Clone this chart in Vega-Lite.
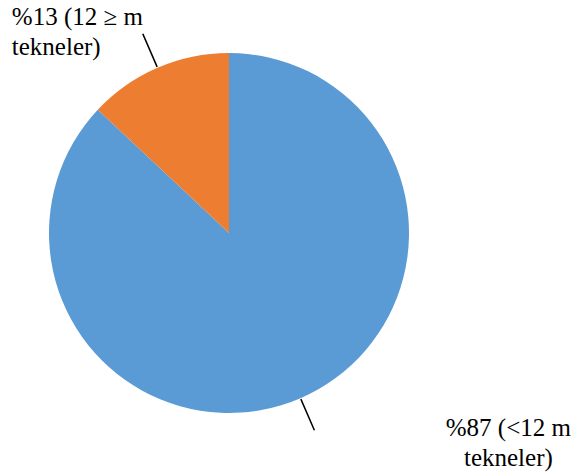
{
  "$schema": "https://vega.github.io/schema/vega-lite/v6.json",
  "width": 400,
  "height": 400,
  "autosize": {"type": "none"},
  "padding": {"left": 29, "top": 33, "right": 152, "bottom": 41},
  "background": "white",
  "config": {"view": {"stroke": null}, "text": {"font": "'Liberation Serif', serif"}},
  "data": {
    "values": [
      {"group": "<12 m tekneler", "value": 87, "label": "%87 (<12 m\ntekneler)"},
      {"group": "12 ≥ m tekneler", "value": 13, "label": "%13 (12 ≥ m\ntekneler)"}
    ]
  },
  "transform": [
    {"stack": "value", "groupby": [], "as": ["v0", "v1"], "sort": [{"field": "value", "order": "descending"}]},
    {"calculate": "(datum.v0 + datum.v1) / 2", "as": "mid"}
  ],
  "layer": [
    {
      "mark": {"type": "arc", "outerRadius": 180},
      "encoding": {
        "theta": {"field": "v0", "type": "quantitative", "scale": {"domain": [0, 100]}, "stack": null},
        "theta2": {"field": "v1"},
        "color": {
          "field": "group",
          "type": "nominal",
          "scale": {"domain": ["<12 m tekneler", "12 ≥ m tekneler"], "range": ["#5B9BD5", "#ED7D31"]},
          "legend": null
        }
      }
    },
    {
      "transform": [{"filter": "datum.value == 13"}],
      "mark": {"type": "arc", "radius": 217, "radius2": 181, "stroke": "black", "strokeWidth": 1.5, "fill": null},
      "encoding": {
        "theta": {"field": "mid", "type": "quantitative", "scale": {"domain": [0, 100]}, "stack": null},
        "theta2": {"field": "mid"}
      }
    },
    {
      "transform": [{"filter": "datum.value == 87"}],
      "mark": {"type": "arc", "radius": 215, "radius2": 181, "stroke": "black", "strokeWidth": 1.5, "fill": null},
      "encoding": {
        "theta": {"field": "mid", "type": "quantitative", "scale": {"domain": [0, 100]}, "stack": null},
        "theta2": {"field": "mid"}
      }
    },
    {
      "transform": [{"filter": "datum.value == 13"}],
      "mark": {"type": "text", "radius": 217, "align": "left", "baseline": "middle", "dx": -131, "dy": -17, "font": "'Liberation Serif', serif", "fontSize": 25, "lineHeight": 30, "lineBreak": "\n", "color": "black"},
      "encoding": {
        "theta": {"field": "mid", "type": "quantitative", "scale": {"domain": [0, 100]}, "stack": null},
        "text": {"field": "label"}
      }
    },
    {
      "transform": [{"filter": "datum.value == 87"}],
      "mark": {"type": "text", "radius": 215, "align": "center", "baseline": "middle", "dx": 194, "dy": -2, "font": "'Liberation Serif', serif", "fontSize": 25, "lineHeight": 30, "lineBreak": "\n", "color": "black"},
      "encoding": {
        "theta": {"field": "mid", "type": "quantitative", "scale": {"domain": [0, 100]}, "stack": null},
        "text": {"field": "label"}
      }
    }
  ]
}
